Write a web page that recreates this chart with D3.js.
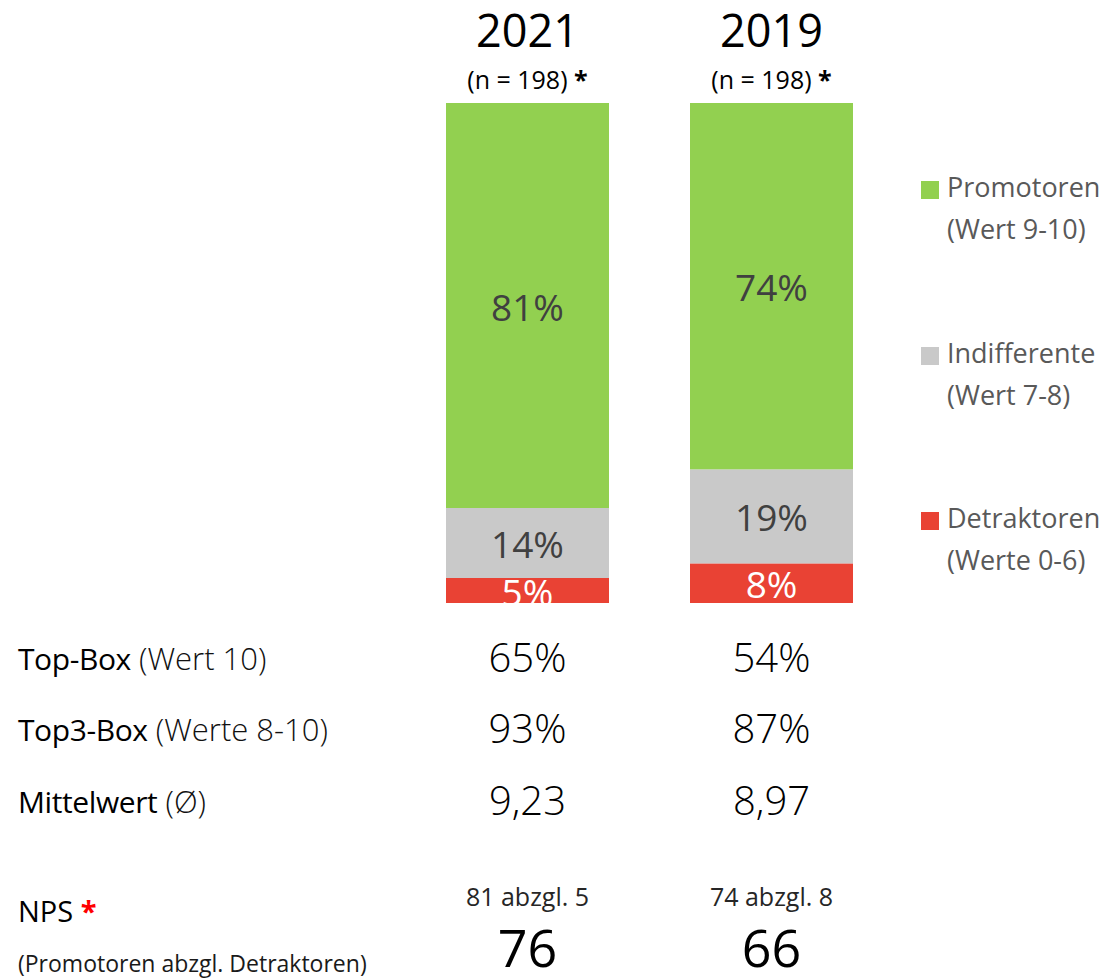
<!DOCTYPE html>
<html>
<head>
<meta charset="utf-8">
<script src="https://cdn.jsdelivr.net/npm/d3@7"></script>
<style>
  body { margin: 0; background: #fff; }
  svg { font-family: "Open Sans", "Noto Sans", sans-serif; }
</style>
</head>
<body>
<svg width="1108" height="980"></svg>
<script>
// data
const years = ["2021", "2019"];
const sampleSizes = [198, 198];
const promotoren = [81, 74];
const indifferente = [14, 19];
const detraktoren = [5, 8];
const topBox = ["65%", "54%"];
const top3Box = ["93%", "87%"];
const mittelwert = ["9,23", "8,97"];
const nps = [76, 66];

const seriesKeys = ["Detraktoren", "Indifferente", "Promotoren"];
const seriesColors = ["#e94234", "#c9c9c9", "#92d050"];
const legendLines = [
    ["Promotoren", "(Wert 9-10)"],
    ["Indifferente", "(Wert 7-8)"],
    ["Detraktoren", "(Werte 0-6)"]
];

const rows = years.map((y, i) => ({
    year: y,
    Detraktoren: detraktoren[i],
    Indifferente: indifferente[i],
    Promotoren: promotoren[i]
}));

const svg = d3.select("svg");

const x = d3.scaleBand().domain(years).range([446, 853]).paddingInner(0.332).paddingOuter(0);
const y = d3.scaleLinear().domain([0, 1]).range([603, 103]);
const color = d3.scaleOrdinal().domain(seriesKeys).range(seriesColors);

const stack = d3.stack().keys(seriesKeys).offset(d3.stackOffsetExpand);
const layers = stack(rows);

// clip so labels don't spill below the bars
svg.append("clipPath").attr("id", "barclip")
    .append("rect").attr("x", 0).attr("y", y(1)).attr("width", 1108).attr("height", y(0) - y(1));

const layerG = svg.append("g").attr("clip-path", "url(#barclip)")
    .selectAll("g")
    .data(layers)
    .join("g");

layerG.selectAll("rect")
    .data(d => d.map(v => ({ key: d.key, v })))
    .join("rect")
    .attr("x", d => x(d.v.data.year))
    .attr("y", d => y(d.v[1]))
    .attr("width", x.bandwidth())
    .attr("height", d => y(d.v[0]) - y(d.v[1]))
    .attr("fill", d => color(d.key));

layerG.selectAll("text")
    .data(d => d.map(v => ({ key: d.key, v })))
    .join("text")
    .attr("x", d => x(d.v.data.year) + x.bandwidth() / 2)
    .attr("y", d => (y(d.v[0]) + y(d.v[1])) / 2 + 15)
    .attr("text-anchor", "middle")
    .attr("font-size", 37)
    .attr("fill", d => d.key === "Detraktoren" ? "#fff" : "#404040")
    .text(d => d.v.data[d.key] + "%");

// column headers
const cx = yr => x(yr) + x.bandwidth() / 2;

svg.selectAll(".year")
    .data(years)
    .join("text")
    .attr("x", cx)
    .attr("y", 47)
    .attr("text-anchor", "middle")
    .attr("font-size", 45)
    .attr("fill", "#000")
    .text(d => d);

const nText = svg.selectAll(".n")
    .data(years)
    .join("text")
    .attr("x", cx)
    .attr("y", 89)
    .attr("text-anchor", "middle")
    .attr("font-size", 25)
    .attr("fill", "#000");
nText.append("tspan").text((d, i) => "(n = " + sampleSizes[i] + ") ");
nText.append("tspan").attr("font-weight", "bold").text("*");

// legend
const legendY = [190, 356, 521];
const legend = svg.selectAll(".legend")
    .data(seriesKeys.slice().reverse())
    .join("g")
    .attr("transform", (d, i) => `translate(921,${legendY[i]})`);
legend.append("rect")
    .attr("x", 0).attr("y", -9)
    .attr("width", 18).attr("height", 18)
    .attr("fill", d => color(d));
legend.append("text")
    .attr("x", 26).attr("y", 7)
    .attr("font-size", 27).attr("fill", "#595959")
    .text((d, i) => legendLines[i][0]);
legend.append("text")
    .attr("x", 26).attr("y", 49)
    .attr("font-size", 27).attr("fill", "#595959")
    .text((d, i) => legendLines[i][1]);

// key figures below the bars
const statRows = [
    { label: "Top-Box", note: " (Wert 10)", values: topBox, y: 670 },
    { label: "Top3-Box", note: " (Werte 8-10)", values: top3Box, y: 741 },
    { label: "Mittelwert", note: " (Ø)", values: mittelwert, y: 813 }
];

statRows.forEach(r => {
    const t = svg.append("text")
        .attr("x", 18).attr("y", r.y)
        .attr("font-size", 30).attr("fill", "#000");
    t.append("tspan").attr("letter-spacing", -0.4).text(r.label);
    t.append("tspan").attr("font-size", 31).attr("fill", "#111").attr("font-weight", 300).text(r.note);

    svg.selectAll(null)
        .data(years)
        .join("text")
        .attr("x", cx)
        .attr("y", r.y + 2)
        .attr("text-anchor", "middle")
        .attr("font-size", 40)
        .attr("font-weight", 300)
        .attr("fill", "#000")
        .text((d, i) => r.values[i]);
});

// NPS
const npsLabel = svg.append("text")
    .attr("x", 18).attr("y", 922)
    .attr("font-size", 29).attr("fill", "#000");
npsLabel.append("tspan").text("NPS ");
npsLabel.append("tspan").attr("fill", "#ff0000").attr("font-weight", "bold").text("*");

svg.append("text")
    .attr("x", 18).attr("y", 972)
    .attr("font-size", 23).attr("fill", "#1a1a1a")
    .text("(Promotoren abzgl. Detraktoren)");

svg.selectAll(".calc")
    .data(years)
    .join("text")
    .attr("x", cx)
    .attr("y", 906)
    .attr("text-anchor", "middle")
    .attr("font-size", 25)
    .attr("fill", "#262626")
    .text((d, i) => promotoren[i] + " abzgl. " + detraktoren[i]);

svg.selectAll(".nps")
    .data(years)
    .join("text")
    .attr("x", cx)
    .attr("y", 967)
    .attr("text-anchor", "middle")
    .attr("font-size", 52)
    .attr("fill", "#000")
    .text((d, i) => nps[i]);
</script>
</body>
</html>
